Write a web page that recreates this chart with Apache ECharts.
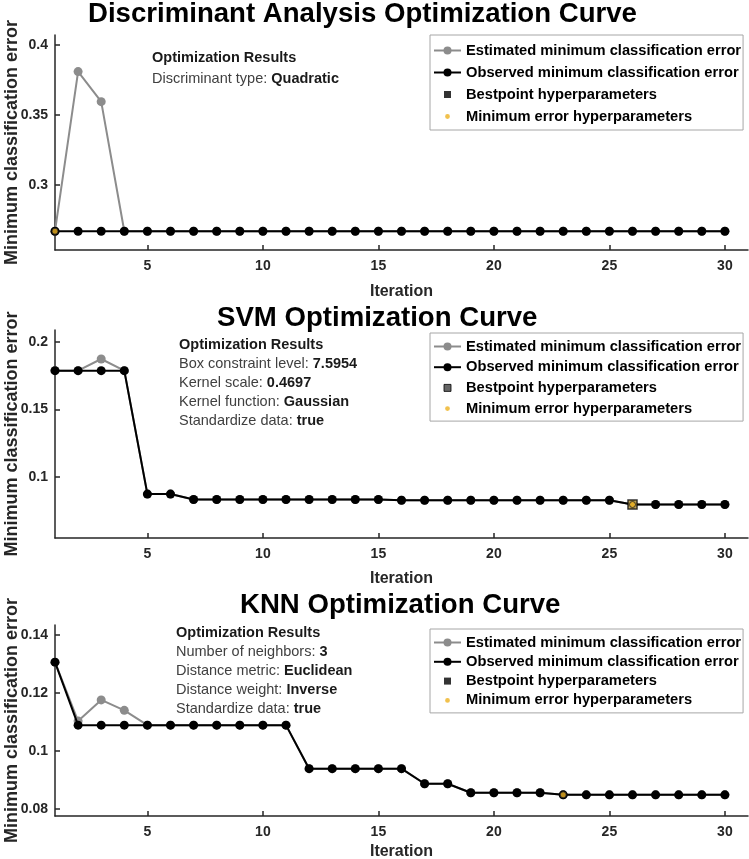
<!DOCTYPE html>
<html>
<head>
<meta charset="utf-8">
<script src="https://cdn.jsdelivr.net/npm/echarts@6/dist/echarts.min.js"></script>
<style>
html,body{margin:0;padding:0;background:#fff;}
#chart{width:749px;height:859px;}
</style>
</head>
<body>
<div id="chart"></div>
<script>
// ---------- data ----------
const iterations = [1,2,3,4,5,6,7,8,9,10,11,12,13,14,15,16,17,18,19,20,21,22,23,24,25,26,27,28,29,30];

const daObserved  = [0.267,0.267,0.267,0.267,0.267,0.267,0.267,0.267,0.267,0.267,0.267,0.267,0.267,0.267,0.267,0.267,0.267,0.267,0.267,0.267,0.267,0.267,0.267,0.267,0.267,0.267,0.267,0.267,0.267,0.267];
const daEstimated = [0.267,0.381,0.3595,0.267,0.267,0.267,0.267,0.267,0.267,0.267,0.267,0.267,0.267,0.267,0.267,0.267,0.267,0.267,0.267,0.267,0.267,0.267,0.267,0.267,0.267,0.267,0.267,0.267,0.267,0.267];
const daBest   = [];
const daMinErr = [[1, 0.267]];

const svmObserved  = [0.1786,0.1786,0.1786,0.1786,0.0875,0.0875,0.0835,0.0835,0.0835,0.0835,0.0835,0.0835,0.0835,0.0835,0.0835,0.0830,0.0830,0.0830,0.0830,0.0830,0.0830,0.0830,0.0830,0.0830,0.0830,0.0798,0.0798,0.0798,0.0798,0.0798];
const svmEstimated = [0.1786,0.1786,0.1872,0.1786,0.0875,0.0875,0.0835,0.0835,0.0835,0.0835,0.0835,0.0835,0.0835,0.0835,0.0835,0.0830,0.0830,0.0830,0.0830,0.0830,0.0830,0.0830,0.0830,0.0830,0.0830,0.0798,0.0798,0.0798,0.0798,0.0798];
const svmBest   = [[26, 0.0798]];
const svmMinErr = [[26, 0.0798]];

const knnObserved  = [0.1306,0.1089,0.1089,0.1089,0.1089,0.1089,0.1089,0.1089,0.1089,0.1089,0.1089,0.0939,0.0939,0.0939,0.0939,0.0939,0.0887,0.0887,0.0856,0.0856,0.0856,0.0856,0.0849,0.0849,0.0849,0.0849,0.0849,0.0849,0.0849,0.0849];
const knnEstimated = [0.1306,0.1103,0.1176,0.1140,0.1089,0.1089,0.1089,0.1089,0.1089,0.1089,0.1089,0.0939,0.0939,0.0939,0.0939,0.0939,0.0887,0.0887,0.0856,0.0856,0.0856,0.0856,0.0849,0.0849,0.0849,0.0849,0.0849,0.0849,0.0849,0.0849];
const knnBest   = [];
const knnMinErr = [[23, 0.0849]];

const xTickValues = [5,10,15,20,25,30];
const daYTicks  = [0.3,0.35,0.4];
const svmYTicks = [0.1,0.15,0.2];
const knnYTicks = [0.08,0.1,0.12,0.14];

const titles = ['Discriminant Analysis Optimization Curve','SVM Optimization Curve','KNN Optimization Curve'];
const legendNames = ['Estimated minimum classification error','Observed minimum classification error','Bestpoint hyperparameters','Minimum error hyperparameters'];
const xName = 'Iteration';
const yName = 'Minimum classification error';

const daNotes  = [['Discriminant type: ','Quadratic']];
const svmNotes = [['Box constraint level: ','7.5954'],['Kernel scale: ','0.4697'],['Kernel function: ','Gaussian'],['Standardize data: ','true']];
const knnNotes = [['Number of neighbors: ','3'],['Distance metric: ','Euclidean'],['Distance weight: ','Inverse'],['Standardize data: ','true']];
const notesHeader = 'Optimization Results';

// ---------- layout / style ----------
const FONT = '"Liberation Sans", Arial, Helvetica, sans-serif';
const AX = '#262626';
const GRAY = '#8c8c8c';
const YEL = '#EDB120';

const panels = [
  {top:35,  height:215, yMin:0.2536, yMax:0.4071, yTicks:daYTicks,  est:daEstimated,  obs:daObserved,  best:daBest,  minE:daMinErr,
   titleLeft:88, titleTop:15, notes:daNotes, noteLeft:152, noteTop:61, noteLH:21,
   legTop:35, legGap:7, legPad:[8,2,6,3], xGap:34},
  {top:330, height:208, yMin:0.0551, yMax:0.2086, yTicks:svmYTicks, est:svmEstimated, obs:svmObserved, best:svmBest, minE:svmMinErr,
   titleLeft:217, titleTop:319, notes:svmNotes, noteLeft:179, noteTop:347, noteLH:19,
   legTop:333, legGap:5.7, legPad:[6,2,5,3], xGap:33},
  {top:625, height:191, yMin:0.0776, yMax:0.1434, yTicks:knnYTicks, est:knnEstimated, obs:knnObserved, best:knnBest, minE:knnMinErr,
   titleLeft:240, titleTop:606, notes:knnNotes, noteLeft:176, noteTop:635, noteLH:19,
   legTop:629, legGap:4.3, legPad:[6,2,5,3], xGap:28}
];

const pair = arr => arr.map((v,i) => [iterations[i], v]);

const grid = [], xAxis = [], yAxis = [], series = [], legend = [], graphic = [];

panels.forEach((p, k) => {
  grid.push({left:55, top:p.top, width:693, height:p.height, containLabel:false, outerBoundsMode:'none'});
  xAxis.push({
    type:'value', gridIndex:k, min:1, max:31,
    name:xName, nameLocation:'middle', nameGap:p.xGap, nameMoveOverlap:false,
    nameTextStyle:{fontFamily:FONT, fontWeight:'bold', fontSize:16, color:AX},
    axisLine:{show:true, lineStyle:{color:AX, width:1.5}},
    axisTick:{show:true, inside:true, length:5, customValues:xTickValues, lineStyle:{color:AX, width:1.5}},
    axisLabel:{customValues:xTickValues, margin:9, fontFamily:FONT, fontWeight:'bold', fontSize:14, color:AX},
    splitLine:{show:false}
  });
  yAxis.push({
    type:'value', gridIndex:k, min:p.yMin, max:p.yMax,
    name:yName, nameLocation:'middle', nameGap:34, nameRotate:90, nameMoveOverlap:false,
    nameTextStyle:{fontFamily:FONT, fontWeight:'bold', fontSize:18, color:AX},
    axisLine:{show:true, lineStyle:{color:AX, width:1.5}},
    axisTick:{show:true, inside:true, length:5, customValues:p.yTicks, lineStyle:{color:AX, width:1.5}},
    axisLabel:{customValues:p.yTicks, margin:7, fontFamily:FONT, fontWeight:'bold', fontSize:14, color:AX,
      formatter: v => String(+v.toFixed(4))},
    splitLine:{show:false}
  });
  series.push({
    name:legendNames[0], type:'line', xAxisIndex:k, yAxisIndex:k, data:pair(p.est),
    symbol:'circle', symbolSize:9, showAllSymbol:true, z:2,
    lineStyle:{color:GRAY, width:2}, itemStyle:{color:GRAY}, emphasis:{disabled:true}
  });
  series.push({
    name:legendNames[1], type:'line', xAxisIndex:k, yAxisIndex:k, data:pair(p.obs),
    symbol:'circle', symbolSize:9, showAllSymbol:true, z:3,
    lineStyle:{color:'#000', width:2}, itemStyle:{color:'#000'}, emphasis:{disabled:true}
  });
  series.push({
    name:legendNames[2], type:'scatter', xAxisIndex:k, yAxisIndex:k, data:p.best,
    symbol:'rect', symbolSize:9, z:4,
    itemStyle:{color:'#e8c565', borderColor:'#000', borderWidth:1.5}, emphasis:{disabled:true}
  });
  series.push({
    name:legendNames[3], type:'scatter', xAxisIndex:k, yAxisIndex:k, data:p.minE,
    symbol:'circle', symbolSize:6, z:5,
    itemStyle:{color:YEL, borderColor:'#222', borderWidth:1}, emphasis:{disabled:true}
  });

  legend.push({
    orient:'vertical', left:430, top:p.legTop,
    padding:p.legPad, itemWidth:27, itemHeight:10, itemGap:p.legGap,
    borderColor:'#a6a6a6', borderWidth:1, backgroundColor:'#fff',
    selectedMode:false,
    textStyle:{fontFamily:FONT, fontWeight:'bold', fontSize:14.7, color:'#000', lineHeight:15},
    data:[
      {name:legendNames[0]},
      {name:legendNames[1]},
      {name:legendNames[2], icon:'path://M0,0M10,10M1.5,1.5h7v7h-7z',
        itemStyle: k===1 ? {color:'#404040', borderColor:'#000', borderWidth:1} : {color:'#000', borderWidth:0}},
      {name:legendNames[3], icon:'path://M0,0M10,10M5,2.6A2.4,2.4,0,1,1,4.99,2.6z',
        itemStyle:{color:YEL, borderWidth:0}}
    ]
  });

  graphic.push({
    type:'text', left:p.titleLeft, top:p.titleTop - 15, z:10,
    style:{text:titles[k], fontFamily:FONT, fontWeight:'bold', fontSize:27.6, fill:'#000'}
  });

  let rich = '{h|' + notesHeader + '}';
  p.notes.forEach(n => { rich += '\n{n|' + n[0] + '}{b|' + n[1] + '}'; });
  graphic.push({
    type:'text', left:p.noteLeft, top:p.noteTop - p.noteLH/2, z:10,
    style:{
      text:rich,
      rich:{
        h:{fontFamily:FONT, fontWeight:'bold', fontSize:14.5, fill:'#1a1a1a', lineHeight:p.noteLH},
        n:{fontFamily:FONT, fontWeight:'normal', fontSize:14.5, fill:'#404040', lineHeight:p.noteLH},
        b:{fontFamily:FONT, fontWeight:'bold', fontSize:14.5, fill:'#1a1a1a', lineHeight:p.noteLH}
      }
    }
  });
});

const chart = echarts.init(document.getElementById('chart'), null, {renderer:'canvas'});
chart.setOption({
  animation:false,
  backgroundColor:'#fff',
  grid, xAxis, yAxis, series, legend, graphic
});
</script>
</body>
</html>
